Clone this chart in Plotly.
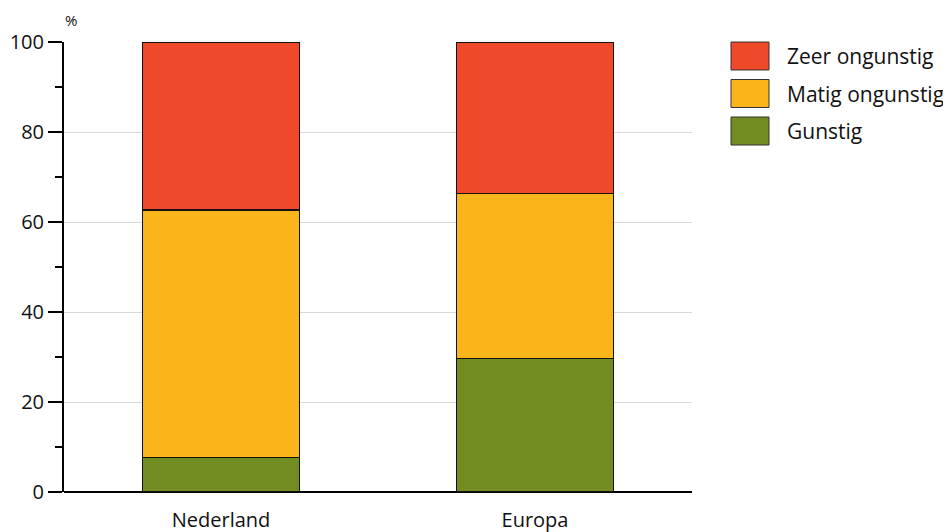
import plotly.graph_objects as go

categories = ["Nederland", "Europa"]
series_names = ["Gunstig", "Matig ongunstig", "Zeer ongunstig"]
gunstig = [7.7, 29.7]
matig_ongunstig = [55.0, 36.6]
zeer_ongunstig = [37.3, 33.7]
y_ticks = [0, 20, 40, 60, 80, 100]

colors = {"Gunstig": "#728C22", "Matig ongunstig": "#FAB51B", "Zeer ongunstig": "#EF482B"}
values = {"Gunstig": gunstig, "Matig ongunstig": matig_ongunstig, "Zeer ongunstig": zeer_ongunstig}

FONT = "Open Sans"
fig = go.Figure()
for name in series_names:
    fig.add_trace(go.Bar(
        x=categories, y=values[name], name=name, width=0.5,
        marker=dict(color=colors[name], line=dict(color="#111111", width=1.5)),
        showlegend=False,
    ))

OFF = 8  # page body margin
W, H = 951 - OFF, 532 - OFF
L, T = 64 - OFF, 42 - OFF
R = (951 - OFF) - (692 - OFF)
B = (532 - OFF) - (492 - OFF)
pw, ph = W - L - R, H - T - B

def px_x(x):
    return (x - 64) / pw

def px_y(y):
    return (492 - y) / ph

# custom legend (top to bottom: Zeer, Matig, Gunstig)
legend_order = ["Zeer ongunstig", "Matig ongunstig", "Gunstig"]
for i, name in enumerate(legend_order):
    top = 42 + i * 37.5
    bot = top + 28
    fig.add_shape(type="rect", xref="paper", yref="paper",
                  x0=px_x(731), x1=px_x(769), y0=px_y(bot), y1=px_y(top),
                  fillcolor=colors[name], line=dict(color="#333333", width=1))
    fig.add_annotation(xref="paper", yref="paper", x=px_x(785),
                       y=px_y((top + bot) / 2), text=name, showarrow=False,
                       xanchor="left", yanchor="middle",
                       font=dict(family=FONT, size=21, color="#111111"))

fig.add_annotation(xref="paper", yref="paper", x=px_x(71), y=px_y(20), text="%",
                   showarrow=False, xanchor="center", yanchor="middle",
                   font=dict(family=FONT, size=15, color="#111111"))

fig.update_layout(
    barmode="stack", width=W, height=H,
    margin=dict(l=L, r=R, t=T, b=B, autoexpand=False),
    plot_bgcolor="white", paper_bgcolor="white",
    font=dict(family=FONT, size=20, color="#111111"),
    bargap=0.5,
)
fig.update_xaxes(range=[-0.5, 1.5], showline=False, ticks="", showgrid=False, automargin=False,
                 tickfont=dict(size=20), ticklabelstandoff=14, zeroline=False)
fig.update_yaxes(range=[0, 100], tickvals=y_ticks, showline=True, linecolor="black", linewidth=2,
                 ticks="outside", ticklen=14, tickcolor="black", tickwidth=1.5, automargin=False,
                 showgrid=True, gridcolor="#d9d9d9", gridwidth=1,
                 zeroline=True, zerolinecolor="black", zerolinewidth=2,
                 minor=dict(dtick=10, ticks="outside", ticklen=7, tickcolor="black", tickwidth=1.5, showgrid=False),
                 ticklabelstandoff=0, tickfont=dict(size=20))

fig.write_html("out.html")
